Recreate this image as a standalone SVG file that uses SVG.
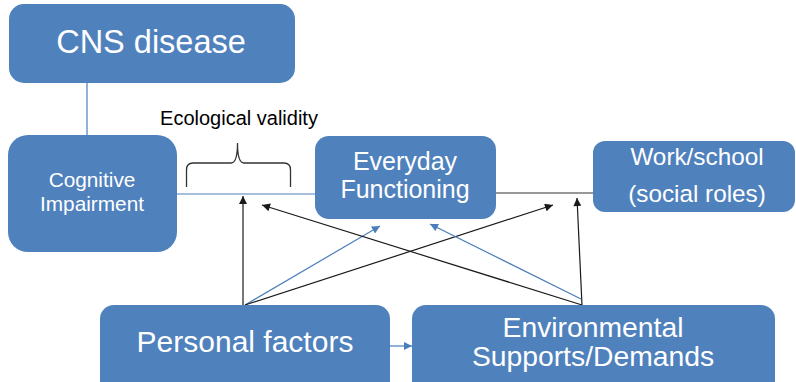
<svg xmlns="http://www.w3.org/2000/svg" width="796" height="382" viewBox="0 0 796 382">
<style>
.box{fill:#4F81BD;}
.lbl{fill:#fff;font-family:"Liberation Sans",Arial,sans-serif;text-anchor:middle;}
.blk{stroke:#1a1a1a;stroke-width:1.2;fill:none;}
.blu{stroke:#4A7EBB;stroke-width:1.2;fill:none;}
</style>
<defs>
<marker id="ab" viewBox="0 0 10 10" refX="10" refY="5" markerWidth="9" markerHeight="8" markerUnits="userSpaceOnUse" orient="auto"><path d="M0,0 L10,5 L0,10 z" fill="#1a1a1a"/></marker>
<marker id="au" viewBox="0 0 10 10" refX="10" refY="5" markerWidth="9" markerHeight="8" markerUnits="userSpaceOnUse" orient="auto"><path d="M0,0 L10,5 L0,10 z" fill="#4A7EBB"/></marker>
</defs>
<rect width="796" height="382" fill="#fff"/>
<g id="connectors">
<line class="blu" x1="87" y1="82" x2="87" y2="136"/>
<line class="blu" x1="176" y1="194" x2="316" y2="194"/>
<line class="blk" x1="495" y1="193" x2="594" y2="193" style="stroke:#333"/>
<line class="blk" x1="243" y1="305" x2="243" y2="196" marker-end="url(#ab)"/>
<line class="blu" x1="245" y1="305" x2="380" y2="226" marker-end="url(#au)"/>
<line class="blk" x1="245" y1="305" x2="553" y2="205" marker-end="url(#ab)"/>
<line class="blk" x1="582" y1="305" x2="577" y2="198" marker-end="url(#ab)"/>
<line class="blu" x1="581" y1="299" x2="430" y2="224" marker-end="url(#au)"/>
<line class="blk" x1="582" y1="305" x2="262" y2="205" marker-end="url(#ab)"/>
<line class="blu" x1="390" y1="346" x2="412" y2="346" marker-end="url(#au)"/>
</g>
<g id="brace">
<path d="M186.5,187 V170 Q186.5,163 193,163 H231 Q237.5,163 237.5,143 Q237.5,163 244,163 H284 Q290.5,163 290.5,170 V187" fill="none" stroke="#333" stroke-width="1.3"/>
<text x="239" y="125" font-family="Liberation Sans,Arial,sans-serif" font-size="20" fill="#000" text-anchor="middle">Ecological validity</text>
</g>
<g id="cns">
<rect class="box" x="9" y="4" width="286" height="79" rx="15"/>
<text class="lbl" x="151" y="53" font-size="32.5">CNS disease</text>
</g>
<g id="cognitive">
<rect class="box" x="8" y="135" width="169" height="117" rx="20"/>
<text class="lbl" x="92" y="187" font-size="20.8">Cognitive</text>
<text class="lbl" x="92" y="211" font-size="20.8">Impairment</text>
</g>
<g id="everyday">
<rect class="box" x="315" y="136" width="181" height="83" rx="14"/>
<text class="lbl" x="405" y="170" font-size="25">Everyday</text>
<text class="lbl" x="405" y="198" font-size="25">Functioning</text>
</g>
<g id="work">
<rect class="box" x="593" y="141" width="202" height="71" rx="12"/>
<text class="lbl" x="697" y="165" font-size="24.3">Work/school</text>
<text class="lbl" x="697" y="202" font-size="24.3">(social roles)</text>
</g>
<g id="personal">
<rect class="box" x="100" y="305" width="290" height="90" rx="14"/>
<text class="lbl" x="245" y="352" font-size="30">Personal factors</text>
</g>
<g id="environmental">
<rect class="box" x="412" y="305" width="363" height="90" rx="14"/>
<text class="lbl" x="593" y="337" font-size="28.3">Environmental</text>
<text class="lbl" x="593" y="366" font-size="28.3">Supports/Demands</text>
</g>
</svg>
